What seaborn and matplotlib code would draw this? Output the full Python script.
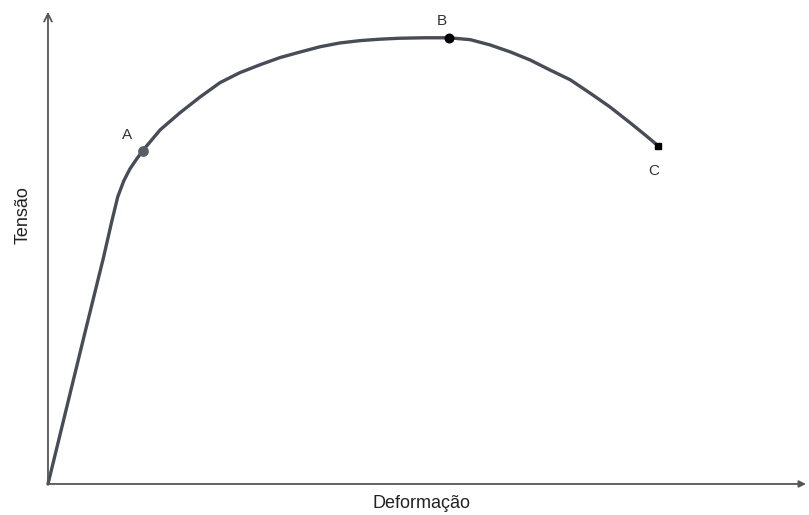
import matplotlib
matplotlib.use("Agg")
import matplotlib.pyplot as plt
import seaborn as sns
import pandas as pd

# Curva tensão-deformação (unidades arbitrárias 0-100)
deformacao = [0, 4.9, 7.3, 8.4, 9.2, 10.0, 10.8, 11.6, 12.5, 14.8, 17.4, 20.1,
              22.7, 25.3, 28.0, 30.6, 33.3, 35.9, 38.5, 41.2, 43.8, 46.4, 49.7,
              52.9, 55.7, 58.3, 61.0, 63.6, 66.2, 68.9, 71.5, 74.1, 76.8, 78.8,
              80.5]
tensao = [0, 32.2, 47.8, 55.5, 60.8, 64.2, 66.7, 68.6, 70.6, 75.0, 78.6, 82.0,
          85.0, 87.1, 88.8, 90.3, 91.5, 92.6, 93.4, 93.9, 94.2, 94.4, 94.5,
          94.5, 94.1, 93.0, 91.5, 89.8, 87.7, 85.6, 82.8, 79.9, 76.5, 73.9,
          71.6]

# Pontos marcados
pontos = ["A", "B", "C"]
pontos_x = [12.5, 52.9, 80.5]
pontos_y = [70.6, 94.5, 71.6]

sns.set_theme(style="white")
plt.rcParams["font.family"] = ["Liberation Sans", "DejaVu Sans"]

df = pd.DataFrame({"Deformação": deformacao, "Tensão": tensao})

fig = plt.figure(figsize=(8.09, 5.15), dpi=100)
ax = fig.add_axes([0, 0, 1, 1])

# Eixos com setas
ax.annotate("", xy=(0, 100), xytext=(0, 0),
            arrowprops=dict(arrowstyle="->", color="#555555", lw=1.3,
                            mutation_scale=14, shrinkA=0, shrinkB=0))
ax.annotate("", xy=(100, 0), xytext=(0, 0),
            arrowprops=dict(arrowstyle="-|>", color="#555555", lw=1.3,
                            mutation_scale=10, shrinkA=0, shrinkB=0))

# Curva
sns.lineplot(data=df, x="Deformação", y="Tensão", sort=False, ax=ax,
             color="#474c56", linewidth=2.4)

# Marcadores A, B, C
ax.scatter(pontos_x[0], pontos_y[0], s=45, color="#585d66", zorder=3)
ax.scatter(pontos_x[1], pontos_y[1], s=38, color="black", zorder=3)
ax.scatter(pontos_x[2], pontos_y[2], s=22, color="black", marker="s", zorder=3)

deslocamentos = [(-2.1, 3.3), (-0.9, 3.6), (-0.6, -5.3)]
for nome, px, py, (dx, dy) in zip(pontos, pontos_x, pontos_y, deslocamentos):
    ax.text(px + dx, py + dy, nome, ha="center", va="center",
            fontsize=11, color="#333333")

# Rótulos dos eixos
ax.text(49.3, -4.1, "Deformação", ha="center", va="center",
        fontsize=13, color="#222222")
ax.text(-3.3, 57.0, "Tensão", ha="center", va="center", rotation=90,
        fontsize=13, color="#222222")

ax.set_xlim(-6.33, 100.4)
ax.set_ylim(-6.57, 102.5)
ax.set_xlabel("")
ax.set_ylabel("")
ax.set_xticks([])
ax.set_yticks([])
for s in ax.spines.values():
    s.set_visible(False)

fig.savefig("out.png", dpi=100)
